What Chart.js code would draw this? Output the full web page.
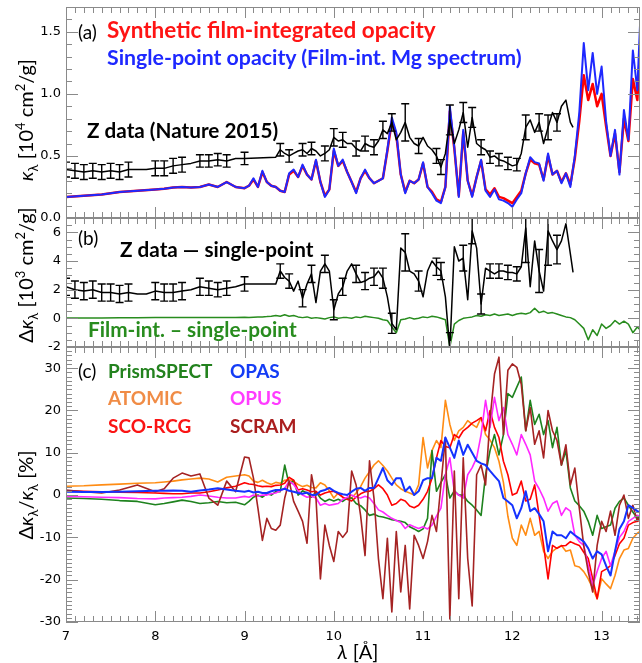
<!DOCTYPE html>
<html>
<head>
<meta charset="utf-8">
<script src="https://cdn.jsdelivr.net/npm/chart.js@4.4.1/dist/chart.umd.min.js"></script>
<style>
  body { margin: 0; background: #fff; }
  #wrap { position: relative; width: 642px; height: 663px; overflow: hidden; font-family: Lato, sans-serif; }
  canvas { position: absolute; left: 0; }
  .lbl { position: absolute; white-space: nowrap; font-size: 19px; font-weight: bold; line-height: 1; }
  .tag { position: absolute; white-space: nowrap; font-size: 19px; line-height: 1; color: #000; }
  .yt { position: absolute; white-space: nowrap; font-size: 20px; line-height: 1; color: #000;
        transform: translate(-50%, -50%) rotate(-90deg); }
  .xt { position: absolute; white-space: nowrap; font-size: 20px; line-height: 1; color: #000;
        transform: translate(-50%, -50%); }
  sub, sup { font-size: 0.65em; line-height: 0; }
</style>
</head>
<body>
<div id="wrap">
  <canvas id="ca" width="642" height="230" style="top:0"></canvas>
  <canvas id="cb" width="642" height="160" style="top:200px"></canvas>
  <canvas id="cc" width="642" height="328" style="top:335px"></canvas>

  <div class="tag" style="left:78px; top:22px">(a)</div>
  <div class="lbl" style="left:107px; top:19px; font-size:22.5px; color:rgb(255,20,20)">Synthetic film-integrated opacity</div>
  <div class="lbl" style="left:107px; top:47px; font-size:21.3px; color:rgb(30,40,255)">Single-point opacity (Film-int. Mg spectrum)</div>
  <div class="lbl" style="left:87px; top:120px; font-size:20.7px; color:#000">Z data (Nature 2015)</div>

  <div class="tag" style="left:78px; top:228px">(b)</div>
  <div class="lbl" style="left:120px; top:239px; font-size:20.7px; color:#000">Z data — single-point</div>
  <div class="lbl" style="left:88px; top:319px; font-size:20.8px; color:rgb(40,140,30)">Film-int. – single-point</div>

  <div class="tag" style="left:78px; top:361px">(c)</div>
  <div class="lbl" style="left:108px; top:361px; color:rgb(35,130,30)">PrismSPECT</div>
  <div class="lbl" style="left:230px; top:361px; color:rgb(20,60,245)">OPAS</div>
  <div class="lbl" style="left:108px; top:388px; color:rgb(240,140,70)">ATOMIC</div>
  <div class="lbl" style="left:230px; top:388px; color:rgb(255,60,255)">OPUS</div>
  <div class="lbl" style="left:108px; top:416px; color:rgb(250,20,20)">SCO-RCG</div>
  <div class="lbl" style="left:230px; top:416px; color:rgb(170,30,30)">SCRAM</div>

  <div class="yt" style="left:25px; top:120px"><i>κ</i><sub>λ</sub> [10<sup>4</sup> cm<sup>2</sup>/g]</div>
  <div class="yt" style="left:25px; top:275px">Δ<i>κ</i><sub>λ</sub> [10<sup>3</sup> cm<sup>2</sup>/g]</div>
  <div class="yt" style="left:25px; top:495px">Δ<i>κ</i><sub>λ</sub>/<i>κ</i><sub>λ</sub> [%]</div>
  <div class="xt" style="left:358px; top:651px"><i>λ</i> [Å]</div>
</div>

<script>
// wavelength grid (Angstrom) shared by the spectra
const lam = [
  7.0, 7.2, 7.4, 7.6, 7.8, 8.0, 8.1, 8.2, 8.3, 8.4, 8.5, 8.6, 8.7, 8.8, 8.9, 9.0,
  9.05, 9.1, 9.15, 9.2, 9.25, 9.3, 9.35, 9.4, 9.45, 9.5,
  9.55, 9.6, 9.65, 9.7, 9.75, 9.8, 9.85, 9.9, 9.95, 10.0,
  10.05, 10.1, 10.15, 10.2, 10.25, 10.3, 10.35, 10.4, 10.45, 10.5,
  10.55, 10.6, 10.65, 10.7, 10.75, 10.8, 10.85, 10.9, 10.95, 11.0,
  11.05, 11.1, 11.15, 11.2, 11.25, 11.3, 11.35, 11.4, 11.45, 11.5,
  11.55, 11.6, 11.65, 11.7, 11.75, 11.8, 11.85, 11.9, 11.95, 12.0,
  12.05, 12.1, 12.15, 12.2, 12.25, 12.3, 12.35, 12.4, 12.45, 12.5,
  12.55, 12.6, 12.65, 12.7, 12.75, 12.8, 12.85, 12.9, 12.95, 13.0,
  13.05, 13.1, 13.15, 13.2, 13.25, 13.3, 13.35, 13.4, 13.43
];

// (a) opacity, 10^4 cm2/g
const singlePoint = [
  0.17, 0.18, 0.19, 0.21, 0.22, 0.23, 0.235, 0.245, 0.25, 0.245, 0.25, 0.27, 0.25, 0.29, 0.25, 0.24,
  0.26, 0.32, 0.25, 0.38, 0.29, 0.26, 0.25, 0.22, 0.21, 0.36,
  0.39, 0.33, 0.43, 0.35, 0.31, 0.47, 0.29, 0.17, 0.23, 0.56,
  0.42, 0.47, 0.37, 0.29, 0.2, 0.32, 0.39, 0.32, 0.28, 0.3,
  0.32, 0.55, 0.81, 0.69, 0.35, 0.2, 0.3, 0.28, 0.31, 0.45,
  0.25, 0.2, 0.14, 0.12, 0.25, 0.9, 0.57, 0.17, 0.71, 0.3,
  0.17, 0.33, 0.47, 0.22, 0.17, 0.23, 0.15, 0.14, 0.12, 0.09,
  0.15, 0.2, 0.36, 0.49, 0.45, 0.44, 0.3, 0.52, 0.35, 0.38,
  0.28, 0.36, 0.25, 0.5, 0.85, 1.41, 1.03, 1.33, 1.0, 1.22,
  0.78, 0.5, 0.71, 0.35, 0.87, 0.63, 1.35, 1.03, 1.55
];
const filmInt = [
  0.17, 0.18, 0.19, 0.21, 0.22, 0.23, 0.235, 0.245, 0.25, 0.245, 0.25, 0.27, 0.25, 0.29, 0.25, 0.24,
  0.26, 0.31, 0.25, 0.37, 0.29, 0.26, 0.25, 0.22, 0.21, 0.35,
  0.38, 0.33, 0.42, 0.35, 0.31, 0.46, 0.29, 0.18, 0.23, 0.54,
  0.42, 0.46, 0.37, 0.29, 0.21, 0.32, 0.38, 0.32, 0.28, 0.3,
  0.32, 0.54, 0.78, 0.67, 0.35, 0.21, 0.3, 0.28, 0.31, 0.44,
  0.25, 0.21, 0.15, 0.13, 0.25, 0.86, 0.56, 0.18, 0.69, 0.3,
  0.18, 0.33, 0.46, 0.23, 0.19, 0.24, 0.17, 0.16, 0.14, 0.12,
  0.17, 0.22, 0.36, 0.47, 0.44, 0.43, 0.31, 0.5, 0.35, 0.38,
  0.29, 0.36, 0.27, 0.48, 0.78, 1.15, 0.95, 1.08, 0.9, 1.0,
  0.74, 0.5, 0.68, 0.37, 0.8, 0.62, 1.12, 0.95, 1.35
];

// (b) film-integrated minus single-point, 10^3 cm2/g
const filmMinusSingle = [
  0.02, 0.03, 0.03, 0.04, 0.04, 0.05, 0.05, 0.05, 0.05, 0.06, 0.05, 0.06, 0.05, 0.06, 0.05, 0.08,
  0.05, 0.08, 0.1, 0.1, 0.12, 0.15, 0.2, 0.15, 0.25, 0.15,
  0.2, 0.1, 0.05, 0.1, 0, 0.05, 0, -0.05, 0.05, 0.1,
  0, 0.05, 0.05, 0, 0.1, 0.05, 0.15, 0.1, 0.05, 0,
  -0.1, -0.15, -0.6, -1.0, -0.1, -0.05, 0.05, -0.05, 0, 0.1,
  0.05, 0.15, 0.1, 0, -0.1, -2.0, -0.4, -0.15, 0, 0.05,
  0.1, 0.2, 0.15, 0.25, 0.2, 0.3, 0.2, 0.25, 0.3, 0.2,
  0.3, 0.35, 0.3, 0.4, 0.7, 0.4, 0.5, 0.35, 0.4, 0.3,
  0.2, 0.1, 0.05, -0.1, -0.4, -0.7, -1.5, -0.8, -1.2, -0.4,
  -0.7, -0.5, -0.15, -0.4, -0.2, -0.4, -1.0, -0.6, -0.8
];

// (c) relative differences, %
const prismspect = [
  -0.7, -0.8, -1.0, -1.3, -1.5, -2.3, -2.0, -1.6, -1.2, -1.5, -2.0, -1.8, -1.5, -1.8, -1.7, -2.3,
  -1.5, -0.5, 0, -0.5, 0.3, 0, 0.8, 0.8, 7.1, 2.4,
  3.5, 0, 1.0, 0.5, -0.5, 0.8, -0.7, -1.5, -1.0, -1.4,
  -1.0, -1.5, -0.7, -0.7, -2.0, -2.5, -3.5, -4.8, -4.5, -5.0,
  -5.2, -5.5, -5.8, -6.0, -6.2, -6.5, -7.5, -8.0, -8.6, -8.0,
  -5.5, 10.5, 0.9, 3, 4.8, -0.7, 1.0, 0, 0, -1.5,
  -2.4, -3.5, -4.8, 4.8, 10.5, 14.3, 9.5, 14.3, 24, 23.1,
  25.5, 27.9, 15.2, 22.4, 16.7, 19.1, 14.3, 17.6, 11.2, 16.0,
  7.1, 10.5, 1.7, -1.4, -2.5, -3.8, -6.2, -9.5, -4.8, -7.9,
  -7.5, -7.1, -3.1, -1.5, -0.7, -2.4, -4, -5.5, -5.0
];
const atomic = [
  2.1, 2.2, 2.4, 2.6, 2.8, 2.9, 3.1, 3.3, 3.6, 3.8, 4.0, 3.8, 3.1, 4.2, 4.5, 4.8,
  4.5, 3.3, 3.0, 3.5, 2.9, 2.5, 3.0, 2.8, 3.5, 3.6,
  3.2, 2.5, 2.0, 2.3, 1.8, 1.7, 2.9, 2.4, 1.0, -0.7,
  0.5, -0.5, -1.0, -0.7, 0.5, 2.0, 4.0, 5.5, 7.1, 8.1,
  7.0, 5.7, 4.0, 2.4, 1.5, 0.9, 0.5, 0, 2.4, 13.6,
  6.4, 10.5, 12.9, 11.2, 22.4, 16.7, 12.9, 15.2, 16.0, 17.6,
  16.7, 16.0, 18.3, 14.3, 13.0, 11.2, 8.0, 3.0, -5.0, -10.2,
  -11.9, -7.1, -9.5, -5.5, -9.5, -8.6, -13.3, -15, -13.3, -12.5,
  -11.9, -13.3, -13, -16.7, -17, -18.1, -19.8, -22, -24.5, -19.8,
  -21, -22.1, -19, -15, -13, -12.6, -10.2, -9, -8.6
];
const scoRcg = [
  1.0, 0.9, 0.8, 0.7, 0.6, 0.5, 0.4, 0.3, 0.3, 0.5, 0.5, 0.8, 1.2, 1.7, 2.1, 2.9,
  2.6, 2.5, 2.2, 2.0, 2.1, 2.0, 2.3, 2.4, 2.8, 4.2,
  3.5, 1.2, 1.5, 1.2, 0.8, 0.9, 0, 0.5, 0.8, 0.9,
  0.3, -0.5, -1.0, -1.4, -0.5, 0.3, 0.8, 0.9, 1.5, 2.4,
  1.5, 0, -2.4, -2.0, -1.0, -1.4, -2.6, -3.0, -2.4, -1.0,
  0.9, 4.0, 8.8, 12.9, 11.5, 11.2, 14.3, 13.5, 15.2, 16.0,
  17.0, 17.6, 18.3, 15.2, 20.0, 16.0, 13.6, 8.0, 4.8, 0,
  0.5, 3.3, -1.4, -1.0, 2.4, -4.8, -11.9, -19.8, -11.9, -12.6,
  -12.0, -11.9, -11.0, -11.5, -11.9, -13.5, -15, -19.8, -24.5, -18.1,
  -17.5, -16.7, -14.3, -11.5, -10.2, -7.1, -6.5, -6.2, -6.0
];
const opas = [
  0.8, 0.7, 0.7, 0.8, 0.9, 1.0, 1.0, 1.1, 1.0, 0.8, 1.1, 1.3, 1.6, 1.3, 1.0, 0.8,
  1.0, 0.6, 0.8, 0.5, 0.5, 0.9, 1.2, 1.2, 1.5, 1.0,
  0.8, 0.5, 0.3, 0.6, 0.1, 0, 0.9, 1.2, 1.7, 1.0,
  0.5, 0.2, 0, 0.8, 1.5, 1.7, 1.0, 1.7, 1.7, 4.0,
  6.4, 3.5, 2.4, 4.0, 4.0, 0.9, 2.0, 0, 0.9, 3.5,
  4.0, 4.0, 8.8, 8.1, 13.6, 11.2, 8.8, 12.9, 9.5, 11.9,
  10.0, 8.1, 7.5, 7.1, 5.7, 4.5, 3.3, -0.7, -1.5, -2.4,
  -5.5, -3.1, 0.9, -3.8, -3.1, -4.5, -6.2, -13.3, -8.6, -9.5,
  -9.5, -10.2, -8.6, -9.5, -10.2, -11, -12.6, -15, -13.3, -14,
  -16.7, -19, -13.3, -8, -6.2, -2.4, -3.0, -3.8, -4.0
];
const opus = [
  -0.3, -0.4, -0.5, -0.6, -0.8, -0.9, -0.7, -0.6, -0.5, -0.3, 0, -0.2, -0.5, -0.7, -0.7, -0.3,
  -0.5, 0, -0.3, 0, 0, 0.3, 0.5, 1.0, 1.6, 3.3,
  2.5, 1.0, 0, -0.5, -0.3, -0.7, -2.4, -2.0, -2.4, -2.2,
  -2.0, -1.0, -0.5, 0, -0.5, -0.7, -0.3, -0.7, -2.0, -3.5,
  -4.0, -4.8, -5.5, -6.0, -6.5, -7.9, -7.0, -7.5, -7.9, -7.5,
  -8.0, -7.1, -5.0, -3.1, 4.8, 8.8, 0.9, 0, -0.7, 4.8,
  6.5, 8.8, 14.3, 22.4, 16, 23.1, 17.6, 20.7, 14.3, 12,
  9.5, 14.3, 12, 9.5, 3.3, 1.5, -0.7, -3.8, -2, -1.4,
  -4.8, -3.0, -3.8, -9.5, -11, -11.9, -16.7, -21.4, -18, -15,
  -13.3, -16.7, -13.3, -10, -8.6, -6.2, -5.5, -4.8, -5.0
];
const scram = [
  1.2, 0.8, 0.5, 1.2, 2.4, 0.8, 1.5, 4.0, 5.2, 4.5, 5.0, -0.7, -2.4, 3.3, 0.8, 9.0,
  8.8, 4.0, -3.1, -10.7, -5.5, -7.9, -8.3, -7.1, -0.7, 3.3,
  -1.5, -3.8, -6.2, -11.4, 4.8, -0.7, -19.8, -7.1, -11.9, -15.7,
  -8.6, -10, -8.6, 5.7, 2.4, -4.8, -14.3, 8.1, -0.7, -15,
  -24.5, -10.2, -27.6, -8.6, -22.9, -11.9, -26.9, -9.5, -11.9, -15,
  -11, -4.8, -8.6, 2.4, 13.6, -29.3, 5.7, -24.5, 8.8, -15,
  -26.2, 4.8, 7.1, 2.4, 18, 28.6, 32.6, 14.3, 29.5, 31,
  30.2, 26.2, 15.2, 20.7, 12, 15.2, 8.8, 20, 15.2, 12.9,
  7.1, 11.9, 2.4, 6.4, -3.1, -12, -18.1, -22.9, -11.9, -6.2,
  -8.6, -3.8, -9.5, -2.4, 0, -5.5, -2.4, -6.2, -5
];

// Z data (Nature 2015), own wavelength points
const zLam = [
  7.0, 7.1, 7.2, 7.3, 7.4, 7.5, 7.6, 7.7, 7.8, 7.9,
  8.0, 8.1, 8.2, 8.3, 8.4, 8.5, 8.6, 8.7, 8.8, 8.9,
  9.0,
  9.35, 9.4, 9.45, 9.5, 9.55, 9.6, 9.65, 9.7, 9.75, 9.8,
  9.85, 9.9, 9.95, 10.0, 10.05, 10.1, 10.15, 10.2, 10.25, 10.3,
  10.35, 10.4, 10.45, 10.5, 10.55, 10.6, 10.65, 10.7, 10.75, 10.8,
  10.85, 10.9, 10.95, 11.0, 11.05, 11.1, 11.15, 11.2, 11.25, 11.3,
  11.35, 11.4, 11.45, 11.5, 11.55, 11.6, 11.65, 11.7, 11.75, 11.8,
  11.85, 11.9, 11.95, 12.0, 12.05, 12.1, 12.15, 12.2, 12.25, 12.3,
  12.35, 12.4, 12.45, 12.5, 12.55, 12.6, 12.65, 12.68
];
const zKappa = [
  0.39, 0.38, 0.37, 0.38, 0.37, 0.38, 0.37, 0.39, 0.39, 0.39,
  0.40, 0.40, 0.42, 0.43, 0.44, 0.46, 0.46, 0.47, 0.46, 0.48,
  0.48,
  0.49, 0.55, 0.52, 0.50, 0.52, 0.54, 0.55, 0.52, 0.56, 0.54,
  0.50, 0.52, 0.55, 0.65, 0.62, 0.63, 0.60, 0.60, 0.56, 0.54,
  0.60, 0.58, 0.57, 0.62, 0.71, 0.68, 0.77, 0.63, 0.69, 0.77,
  0.65, 0.60, 0.58, 0.65, 0.58, 0.55, 0.50, 0.41, 0.52, 0.79,
  0.60, 0.71, 0.85, 0.57, 0.81, 0.60, 0.57, 0.55, 0.49, 0.50,
  0.47, 0.46, 0.44, 0.42, 0.43, 0.52, 0.73, 0.79, 0.69, 0.77,
  0.60, 0.73, 0.85, 0.77, 0.90, 0.95, 0.77, 0.73
];
const zKappaErr = [
  .06, .06, .06, .06, .06, .06, .06, .06, null, null,
  .06, .06, .06, .06, null, .05, .05, .05, .05, null,
  .05,
  null, .05, null, .05, null, null, .05, null, .05, null,
  null, .06, null, .07, null, .06, null, null, .06, null,
  .06, null, .06, null, .07, null, .07, null, null, .15,
  null, null, .06, null, null, null, .06, .06, null, .12,
  null, null, .08, null, .08, null, .06, null, .05, null,
  .05, null, .05, null, .05, null, .1, null, null, .07,
  null, .1, null, .07, null, null, null, null
];
const zMinusSingle = [
  2.2, 2.0, 1.9, 2.0, 1.8, 1.8, 1.7, 1.8, 1.7, 1.7,
  1.9, 1.8, 1.8, 1.9, 2.0, 2.2, 2.1, 2.0, 2.1, 2.2,
  2.4,
  2.4, 3.3, 2.85, 2.6, 1.9, 2.6, 1.4, 2.4, 3.1, 1.1,
  3.3, 3.8, 3.3, 0.6, 1.7, 2.2, 3.3, 3.8, 3.1, 2.5,
  2.6, 2.8, 2.9, 3.3, 2.8, 1.5, -0.35, -0.8, 4.9, 4.6,
  3.3, 3.1, 2.6, 1.5, 3.3, 4.0, 3.6, 3.3, 1.5, -2.2,
  5.0, 4.0, 4.2, 1.3, 6.1, 4.9, 1.0, 3.5, 3.3, 3.1,
  3.3, 3.3, 3.2, 3.2, 3.1, 3.6, 6.3, 2.2, 5.4, 3.3,
  1.9, 6.1, 5.4, 4.8, 5.4, 6.6, 4.5, 3.2
];
const zMinusSingleErr = [
  .6, .6, .6, .6, .6, .6, .6, .6, null, null,
  .6, .6, .6, .6, null, .6, .5, .5, .5, null,
  .5,
  null, .5, null, .5, null, null, .6, null, .6, null,
  null, .6, null, .7, null, .6, null, null, .6, null,
  .6, null, .6, null, .7, null, .7, null, null, 1.3,
  null, null, .7, null, null, null, .6, .6, null, 1.2,
  null, null, .9, null, .9, null, .7, null, .5, null,
  .5, null, .5, null, .5, null, 2.4, null, null, 1.5,
  null, 2.4, null, 1.0, null, null, null, null
];

const xTicks = [7, 8, 9, 10, 11, 12, 13];
const yTicksA = [0, 0.5, 1.0, 1.5];
const yTicksB = [-2, 0, 2, 4, 6];
const yTicksC = [-30, -20, -10, 0, 10, 20, 30];

[singlePoint, filmInt, filmMinusSingle, prismspect, atomic, scoRcg, opas, opus, scram].forEach((s, i) => {
  if (s.length !== lam.length) throw new Error('series ' + i + ' has ' + s.length + ' values, grid has ' + lam.length);
});
[zKappa, zKappaErr, zMinusSingle, zMinusSingleErr].forEach((s, i) => {
  if (s.length !== zLam.length) throw new Error('z series ' + i + ' has ' + s.length + ' values, grid has ' + zLam.length);
});

Chart.defaults.font.family = "'DejaVu Sans', sans-serif";
Chart.defaults.font.size = 13;
Chart.defaults.color = '#000';

const X_MIN = 7, X_MAX = 13.43;

function pts(xs, ys) {
  return xs.map((x, i) => ({x: x, y: ys[i]}));
}

// box round the plot with inward ticks on all four sides
const frameTicks = {
  id: 'frameTicks',
  afterDraw(chart, args, opts) {
    const {ctx, chartArea: a, scales: {x, y}} = chart;
    ctx.save();
    ctx.strokeStyle = '#8a8a8a';
    ctx.lineWidth = 1;
    ctx.strokeRect(a.left + 0.5, a.top + 0.5, a.right - a.left - 1, a.bottom - a.top - 1);
    ctx.beginPath();
    for (let k = 70; k <= Math.floor(X_MAX * 10); k++) {
      const px = Math.round(x.getPixelForValue(k / 10)) + 0.5;
      const len = k % 10 === 0 ? 11 : 6;
      ctx.moveTo(px, a.top); ctx.lineTo(px, a.top + len);
      ctx.moveTo(px, a.bottom); ctx.lineTo(px, a.bottom - len);
    }
    const n0 = Math.ceil(y.min / opts.minor - 1e-9), n1 = Math.floor(y.max / opts.minor + 1e-9);
    for (let k = n0; k <= n1; k++) {
      const v = k * opts.minor;
      const r = v / opts.major;
      const len = Math.abs(r - Math.round(r)) < 1e-6 ? 12 : 6;
      const py = Math.round(y.getPixelForValue(v)) + 0.5;
      ctx.moveTo(a.left, py); ctx.lineTo(a.left + len, py);
      ctx.moveTo(a.right, py); ctx.lineTo(a.right - len, py);
    }
    ctx.stroke();
    ctx.restore();
  }
};

// vertical error bars with caps for the Z data
const errorBars = {
  id: 'errorBars',
  afterDatasetsDraw(chart, args, opts) {
    if (!opts.err) return;
    const {ctx, chartArea: a, scales: {x, y}} = chart;
    ctx.save();
    ctx.beginPath();
    ctx.rect(a.left, a.top, a.right - a.left, a.bottom - a.top);
    ctx.clip();
    ctx.strokeStyle = '#000';
    ctx.lineWidth = 1.4;
    ctx.beginPath();
    opts.err.forEach((e, i) => {
      if (e == null) return;
      const px = x.getPixelForValue(opts.lam[i]);
      const yt = y.getPixelForValue(opts.val[i] + e);
      const yb = y.getPixelForValue(opts.val[i] - e);
      ctx.moveTo(px, yt); ctx.lineTo(px, yb);
      ctx.moveTo(px - 4, yt); ctx.lineTo(px + 4, yt);
      ctx.moveTo(px - 4, yb); ctx.lineTo(px + 4, yb);
    });
    ctx.stroke();
    ctx.restore();
  }
};

function makeChart(id, datasets, cfg) {
  return new Chart(document.getElementById(id), {
    type: 'line',
    data: {datasets: datasets},
    options: {
      responsive: false,
      animation: false,
      devicePixelRatio: 1,
      layout: {padding: cfg.padding},
      elements: {point: {radius: 0}, line: {tension: 0, borderJoinStyle: 'round'}},
      plugins: {
        legend: {display: false},
        tooltip: {enabled: false},
        frameTicks: {minor: cfg.minor, major: cfg.major},
        errorBars: cfg.errorBars || {}
      },
      scales: {
        x: {
          type: 'linear', min: X_MIN, max: X_MAX,
          display: cfg.showX,
          grid: {display: false, drawTicks: false},
          border: {display: false},
          ticks: {padding: 7, maxRotation: 0, font: {size: 13}},
          afterBuildTicks: s => { s.ticks = xTicks.map(v => ({value: v})); },
          afterFit: s => {
            s.height = cfg.showX ? 41 : 0;
            s.paddingLeft = 0; s.paddingRight = 0;
          }
        },
        y: {
          type: 'linear', min: cfg.yMin, max: cfg.yMax,
          grid: {display: false, drawTicks: false},
          border: {display: false},
          ticks: {padding: 5, font: {size: 13}, callback: cfg.fmt},
          afterBuildTicks: s => { s.ticks = cfg.yTicks.map(v => ({value: v})); },
          afterFit: s => {
            s.width = 66;
            s.paddingTop = 0; s.paddingBottom = 0;
          }
        }
      }
    },
    plugins: [frameTicks, errorBars]
  });
}

// panel (a)
makeChart('ca', [
  {data: pts(zLam, zKappa), borderColor: '#000', borderWidth: 1.5},
  {data: pts(lam, singlePoint), borderColor: 'rgb(30,40,255)', borderWidth: 2},
  {data: pts(lam, filmInt), borderColor: 'rgb(255,0,0)', borderWidth: 2.5}
], {
  padding: {top: 7, bottom: 12, left: 0, right: 2},
  yMin: 0, yMax: 1.7, yTicks: yTicksA, minor: 0.1, major: 0.5,
  fmt: v => v.toFixed(1), showX: false,
  errorBars: {lam: zLam, val: zKappa, err: zKappaErr}
});

// panel (b)
makeChart('cb', [
  {data: pts(zLam, zMinusSingle), borderColor: '#000', borderWidth: 1.5},
  {data: pts(lam, filmMinusSingle), borderColor: 'rgb(40,140,30)', borderWidth: 1.5}
], {
  padding: {top: 18, bottom: 13, left: 0, right: 2},
  yMin: -2, yMax: 7, yTicks: yTicksB, minor: 0.5, major: 2,
  fmt: v => String(v), showX: false,
  errorBars: {lam: zLam, val: zMinusSingle, err: zMinusSingleErr}
});

// panel (c)
makeChart('cc', [
  {data: pts(lam, opas), borderColor: 'rgb(20,50,255)', borderWidth: 2},
  {data: pts(lam, scram), borderColor: 'rgb(165,35,35)', borderWidth: 1.6},
  {data: pts(lam, opus), borderColor: 'rgb(255,40,255)', borderWidth: 1.6},
  {data: pts(lam, scoRcg), borderColor: 'rgb(255,0,0)', borderWidth: 1.6},
  {data: pts(lam, prismspect), borderColor: 'rgb(30,130,30)', borderWidth: 1.6},
  {data: pts(lam, atomic), borderColor: 'rgb(255,140,20)', borderWidth: 1.6}
], {
  padding: {top: 12, bottom: 0, left: 0, right: 2},
  yMin: -30, yMax: 35, yTicks: yTicksC, minor: 1, major: 10,
  fmt: v => String(v), showX: true
});
</script>
</body>
</html>
